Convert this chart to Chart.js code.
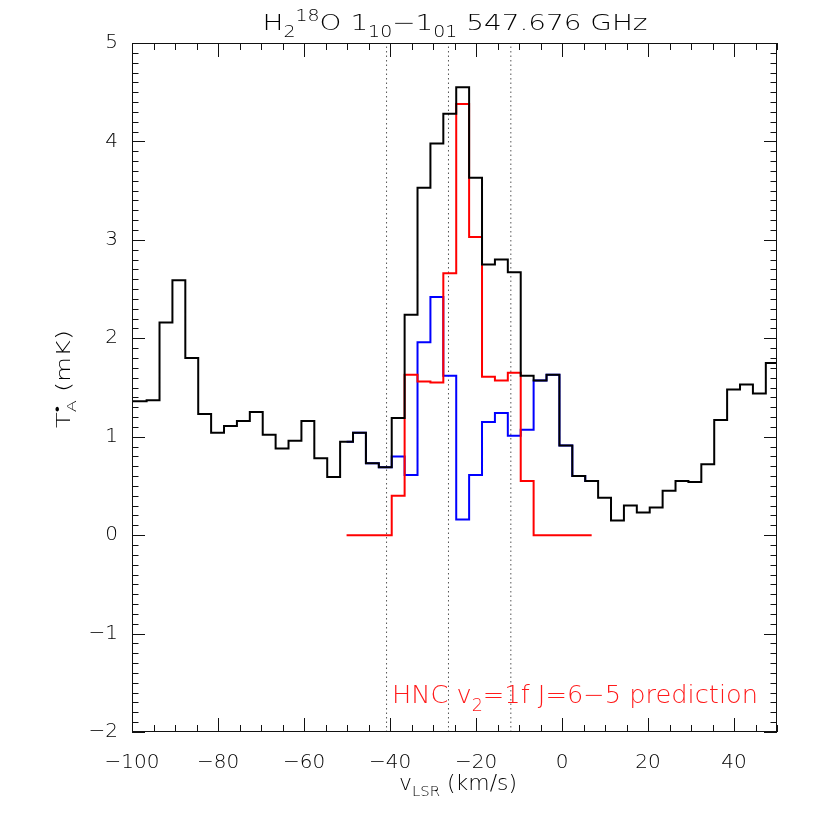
<!DOCTYPE html>
<html>
<head>
<meta charset="utf-8">
<script src="https://cdn.jsdelivr.net/npm/chart.js@4/dist/chart.umd.min.js"></script>
<style>
html, body { margin: 0; padding: 0; background: #fff; }
#wrap { width: 817px; height: 817px; }
</style>
</head>
<body>
<div id="wrap"><canvas id="spec" width="817" height="817"></canvas></div>
<script>
// channel centres (km/s) of the H2 18O spectrum
const velocity = [-101.1, -98.1, -95.1, -92.1, -89.1, -86.1, -83.1, -80.1, -77.1, -74.1,
  -71.1, -68.1, -65.1, -62.1, -59.1, -56.1, -53.1, -50.1, -47.1, -44.1,
  -41.1, -38.1, -35.1, -32.1, -29.1, -26.1, -23.1, -20.1, -17.1, -14.1,
  -11.1, -8.1, -5.1, -2.1, 0.9, 3.9, 6.9, 9.9, 12.9, 15.9,
  18.9, 21.9, 24.9, 27.9, 30.9, 33.9, 36.9, 39.9, 42.9, 45.9,
  48.9, 51.9];
const h2o18 = [1.36, 1.36, 1.37, 2.16, 2.59, 1.80, 1.23, 1.04, 1.11, 1.16,
  1.25, 1.02, 0.88, 0.96, 1.16, 0.78, 0.59, 0.95, 1.04, 0.73,
  0.69, 1.19, 2.24, 3.53, 3.98, 4.28, 4.55, 3.63, 2.75, 2.80,
  2.67, 1.62, 1.57, 1.63, 0.91, 0.60, 0.55, 0.38, 0.15, 0.30,
  0.23, 0.28, 0.45, 0.55, 0.54, 0.72, 1.17, 1.48, 1.53, 1.44,
  1.75, 1.75];

// HNC v2=1f prediction and what is left after removing it
const hncVelocity = [-50.1, -47.1, -44.1, -41.1, -38.1, -35.1, -32.1, -29.1, -26.1, -23.1,
  -20.1, -17.1, -14.1, -11.1, -8.1, -5.1, -2.1, 0.9, 3.9, 6.9];
const hncPrediction = [0, 0, 0, 0, 0.40, 1.63, 1.56, 1.55, 2.66, 4.38,
  3.03, 1.61, 1.57, 1.65, 0.55, 0, 0, 0, 0, 0];
const residual = [0.95, 1.04, 0.73, 0.69, 0.80, 0.61, 1.96, 2.42, 1.62, 0.16,
  0.61, 1.15, 1.24, 1.01, 1.07, 1.57, 1.63, 0.91, 0.60, 0.55];

const markerVelocity = [-40.8, -26.4, -11.9];
const xTicks = [-100, -80, -60, -40, -20, 0, 20, 40];
const yTicks = [-2, -1, 0, 1, 2, 3, 4, 5];

const FONT = '"DejaVu Sans", "Liberation Sans", sans-serif';
const WEIGHT = 200;
const INK = '#000';

function pts(xs, ys) {
  return xs.map((x, i) => ({ x: x, y: ys[i] }));
}
function minus(v) {
  return String(v).replace('-', '\u2212');
}

// text with sub/superscripts; parts: [text, 'n'|'sub'|'sup'] or {sub, sup}
function drawRich(ctx, parts, x, y, size, color, align, fitWidth) {
  const small = size * 0.68;
  const widths = parts.map(p => {
    if (Array.isArray(p)) {
      ctx.font = `${WEIGHT} ${p[1] == 'n' ? size : small}px ${FONT}`;
      return ctx.measureText(p[0]).width;
    }
    ctx.font = `${WEIGHT} ${small}px ${FONT}`;
    return Math.max(ctx.measureText(p.sub).width, ctx.measureText(p.sup).width);
  });
  const total = widths.reduce((a, b) => a + b, 0);
  const sx = fitWidth ? fitWidth / total : 1;
  ctx.save();
  ctx.translate(x, y);
  ctx.scale(sx, 1);
  let cx = align == 'center' ? -total / 2 : (align == 'right' ? -total : 0);
  ctx.fillStyle = color;
  ctx.textAlign = 'left';
  ctx.textBaseline = 'alphabetic';
  parts.forEach((p, i) => {
    if (Array.isArray(p)) {
      ctx.font = `${WEIGHT} ${p[1] == 'n' ? size : small}px ${FONT}`;
      const dy = p[1] == 'sub' ? size * 0.3 : (p[1] == 'sup' ? -size * 0.42 : 0);
      ctx.fillText(p[0], cx, dy);
    } else {
      ctx.font = `${WEIGHT} ${small}px ${FONT}`;
      ctx.fillText(p.sub, cx, size * 0.3);
      ctx.fillText(p.sup, cx, -size * 0.42);
    }
    cx += widths[i];
  });
  ctx.restore();
}

const idlFrame = {
  id: 'idlFrame',
  afterDatasetsDraw(chart) {
    const ctx = chart.ctx;
    const a = chart.chartArea;
    const xs = chart.scales.x, ys = chart.scales.y;
    ctx.save();
    ctx.strokeStyle = '#111';
    ctx.lineWidth = 1;
    ctx.strokeRect(a.left + 0.5, a.top + 0.5, a.right - a.left - 1, a.bottom - a.top - 1);
    ctx.beginPath();
    for (let v = -100; v <= 50; v += 5) {
      const px = Math.round(xs.getPixelForValue(v)) + 0.5;
      const len = v % 20 == 0 && v != 50 ? 14 : 7;
      ctx.moveTo(px, a.bottom); ctx.lineTo(px, a.bottom - len);
      ctx.moveTo(px, a.top); ctx.lineTo(px, a.top + len);
    }
    for (let i = -20; i <= 50; i++) {
      const py = Math.round(ys.getPixelForValue(i / 10)) + 0.5;
      const len = i % 10 == 0 ? 13 : 6.5;
      ctx.moveTo(a.left, py); ctx.lineTo(a.left + len, py);
      ctx.moveTo(a.right, py); ctx.lineTo(a.right - len, py);
    }
    ctx.stroke();
    ctx.restore();
  },
  afterDraw(chart) {
    const ctx = chart.ctx;
    drawRich(ctx, [['H', 'n'], ['2', 'sub'], ['18', 'sup'], ['O 1', 'n'], ['10', 'sub'],
      ['\u22121', 'n'], ['01', 'sub'], [' 547.676 GHz', 'n']], 455, 30, 22, INK, 'center', 385);
    drawRich(ctx, [['v', 'n'], ['LSR', 'sub'], [' (km/s)', 'n']], 458, 790, 21, INK, 'center', 118);
    drawRich(ctx, [['HNC v', 'n'], ['2', 'sub'], ['=1f J=6\u22125 prediction', 'n']],
      392, 703, 25, '#ff1a1a', 'left', 366);
    ctx.save();
    ctx.translate(70, 428);
    ctx.rotate(-Math.PI / 2);
    drawRich(ctx, [['T', 'n'], { sub: 'A', sup: '\u2022' }, [' (mK)', 'n']], 0, 0, 19, INK, 'left', 98);
    ctx.restore();
  }
};

const stepLine = (label, data, color, order) => ({
  label: label,
  data: data,
  borderColor: color,
  borderWidth: 2,
  stepped: 'middle',
  pointRadius: 0,
  fill: false,
  clip: 0,
  order: order
});

const datasets = [
  stepLine('H2 18O', pts(velocity, h2o18), '#000', 0),
  stepLine('HNC prediction', pts(hncVelocity, hncPrediction), '#ff0000', 1),
  stepLine('residual', pts(hncVelocity, residual), '#0000ff', 2)
];
markerVelocity.forEach(v => {
  datasets.push({
    label: 'marker',
    data: [{ x: v, y: -2 }, { x: v, y: 5 }],
    borderColor: '#555',
    borderWidth: 1,
    borderDash: [1.5, 3],
    pointRadius: 0,
    fill: false,
    order: 3
  });
});

new Chart(document.getElementById('spec'), {
  type: 'line',
  data: { datasets: datasets },
  options: {
    responsive: false,
    animation: false,
    devicePixelRatio: 1,
    layout: { padding: { top: 43, right: 40, left: 0, bottom: 0 } },
    plugins: { legend: { display: false }, tooltip: { enabled: false } },
    scales: {
      x: {
        type: 'linear',
        min: -100,
        max: 50,
        afterBuildTicks: s => { s.ticks = xTicks.map(v => ({ value: v })); },
        afterFit: s => { s.height = 85; },
        grid: { display: false, drawTicks: false },
        border: { display: false },
        ticks: {
          autoSkip: false, maxRotation: 0, padding: 19, color: INK,
          font: { family: FONT, size: 20, weight: WEIGHT },
          callback: v => minus(v)
        }
      },
      y: {
        min: -2,
        max: 5,
        afterBuildTicks: s => { s.ticks = yTicks.map(v => ({ value: v })); },
        afterFit: s => { s.width = 132; },
        grid: { display: false, drawTicks: false },
        border: { display: false },
        ticks: {
          padding: 14, color: INK,
          font: { family: FONT, size: 20, weight: WEIGHT },
          callback: v => minus(v)
        }
      }
    }
  },
  plugins: [idlFrame]
});
</script>
</body>
</html>
